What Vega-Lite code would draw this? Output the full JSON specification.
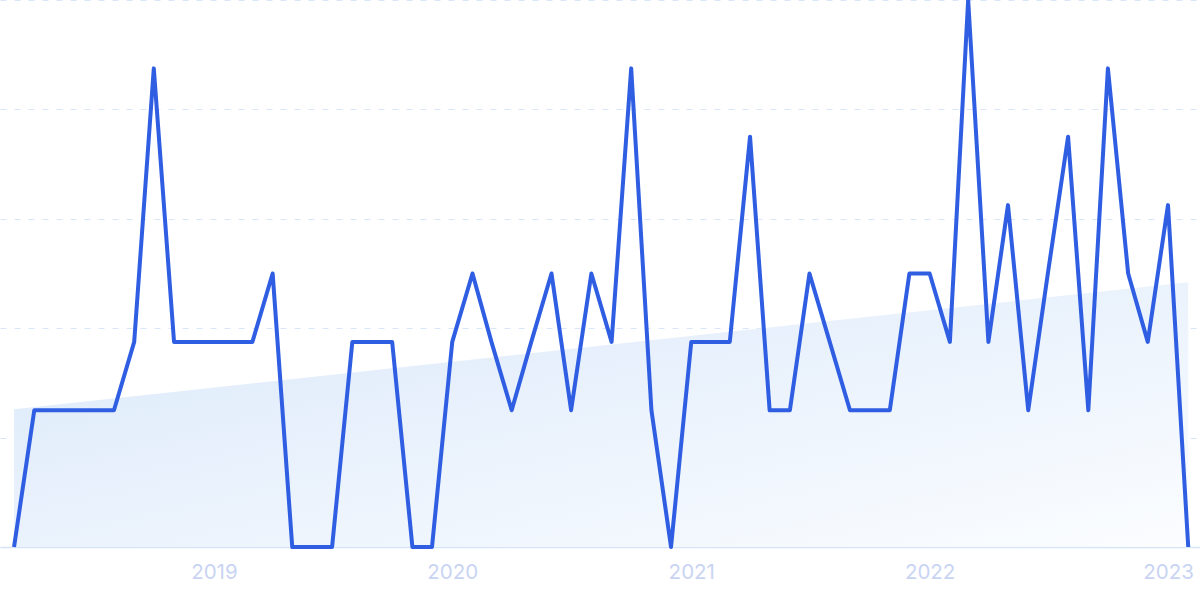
{
  "$schema": "https://vega.github.io/schema/vega-lite/v6.json",
  "width": 1200,
  "height": 547,
  "autosize": "none",
  "padding": {"left": 0, "top": 0, "right": 0, "bottom": 52},
  "background": "white",
  "config": {"view": {"stroke": null}, "font": "Inter"},
  "datasets": {
    "series": [
      {"date": "2018-03-01", "value": 0},
      {"date": "2018-04-01", "value": 25},
      {"date": "2018-05-01", "value": 25},
      {"date": "2018-06-01", "value": 25},
      {"date": "2018-07-01", "value": 25},
      {"date": "2018-08-01", "value": 25},
      {"date": "2018-09-01", "value": 37.5},
      {"date": "2018-10-01", "value": 87.5},
      {"date": "2018-11-01", "value": 37.5},
      {"date": "2018-12-01", "value": 37.5},
      {"date": "2019-01-01", "value": 37.5},
      {"date": "2019-02-01", "value": 37.5},
      {"date": "2019-03-01", "value": 37.5},
      {"date": "2019-04-01", "value": 50},
      {"date": "2019-05-01", "value": 0},
      {"date": "2019-06-01", "value": 0},
      {"date": "2019-07-01", "value": 0},
      {"date": "2019-08-01", "value": 37.5},
      {"date": "2019-09-01", "value": 37.5},
      {"date": "2019-10-01", "value": 37.5},
      {"date": "2019-11-01", "value": 0},
      {"date": "2019-12-01", "value": 0},
      {"date": "2020-01-01", "value": 37.5},
      {"date": "2020-02-01", "value": 50},
      {"date": "2020-03-01", "value": 37.5},
      {"date": "2020-04-01", "value": 25},
      {"date": "2020-05-01", "value": 37.5},
      {"date": "2020-06-01", "value": 50},
      {"date": "2020-07-01", "value": 25},
      {"date": "2020-08-01", "value": 50},
      {"date": "2020-09-01", "value": 37.5},
      {"date": "2020-10-01", "value": 87.5},
      {"date": "2020-11-01", "value": 25},
      {"date": "2020-12-01", "value": 0},
      {"date": "2021-01-01", "value": 37.5},
      {"date": "2021-02-01", "value": 37.5},
      {"date": "2021-03-01", "value": 37.5},
      {"date": "2021-04-01", "value": 75},
      {"date": "2021-05-01", "value": 25},
      {"date": "2021-06-01", "value": 25},
      {"date": "2021-07-01", "value": 50},
      {"date": "2021-08-01", "value": 37.5},
      {"date": "2021-09-01", "value": 25},
      {"date": "2021-10-01", "value": 25},
      {"date": "2021-11-01", "value": 25},
      {"date": "2021-12-01", "value": 50},
      {"date": "2022-01-01", "value": 50},
      {"date": "2022-02-01", "value": 37.5},
      {"date": "2022-03-01", "value": 100},
      {"date": "2022-04-01", "value": 37.5},
      {"date": "2022-05-01", "value": 62.5},
      {"date": "2022-06-01", "value": 25},
      {"date": "2022-07-01", "value": 50},
      {"date": "2022-08-01", "value": 75},
      {"date": "2022-09-01", "value": 25},
      {"date": "2022-10-01", "value": 87.5},
      {"date": "2022-11-01", "value": 50},
      {"date": "2022-12-01", "value": 37.5},
      {"date": "2023-01-01", "value": 62.5},
      {"date": "2023-02-01", "value": 0}
    ],
    "trend": [
      {"date": "2018-03-01", "value": 25.2},
      {"date": "2023-02-01", "value": 48.4}
    ]
  },
  "layer": [
    {
      "data": {"name": "trend"},
      "mark": {
        "type": "area",
        "fill": {
          "gradient": "linear",
          "x1": 0, "y1": 0, "x2": 1, "y2": 1,
          "stops": [
            {"offset": 0, "color": "#dae8fa"},
            {"offset": 1, "color": "#fbfdff"}
          ]
        }
      },
      "encoding": {
        "x": {
          "field": "date", "type": "temporal",
          "scale": {"type": "utc", "domain": [1518004800000, 1676764800000]},
          "axis": {
            "format": "%Y", "tickCount": {"interval": "year", "step": 1},
            "grid": false, "ticks": false, "domain": true, "domainColor": "#d6e4f8", "domainWidth": 1.5,
            "labelFontSize": 20.5, "labelColor": "#c9d4f3", "labelPadding": 15, "labelFont": "Inter",
            "labelBound": false, "labelOverlap": false, "title": null
          }
        },
        "y": {
          "field": "value", "type": "quantitative",
          "scale": {"domain": [0, 100], "nice": false, "zero": true},
          "axis": {
            "labels": false, "ticks": false, "domain": false, "grid": true,
            "values": [0, 20, 40, 60, 80, 100],
            "gridColor": "#d9e5f8", "gridDash": [6, 8], "gridWidth": 1.2, "title": null
          }
        }
      }
    },
    {
      "data": {"name": "series"},
      "mark": {"type": "line", "color": "#2f5ee3", "strokeWidth": 4, "strokeJoin": "round"},
      "encoding": {
        "x": {"field": "date", "type": "temporal"},
        "y": {"field": "value", "type": "quantitative"}
      }
    }
  ]
}
